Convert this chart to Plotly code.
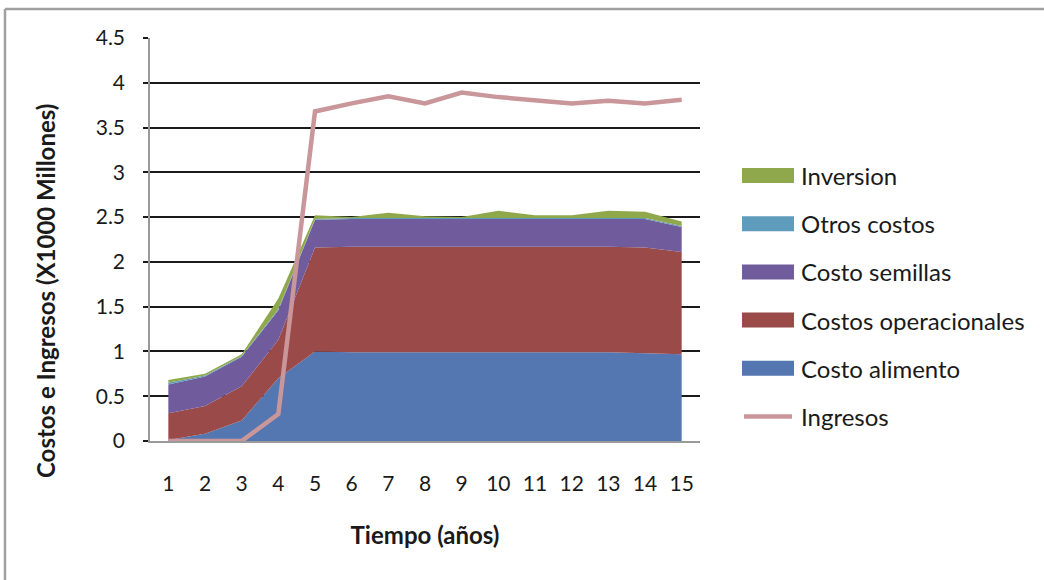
import plotly.graph_objects as go

years = [str(i) for i in range(1, 16)]
costo_alimento = [0.01, 0.08, 0.23, 0.70, 1.00, 0.99, 0.99, 0.99, 0.99, 0.99, 0.99, 0.99, 0.99, 0.98, 0.97]
costos_operacionales = [0.30, 0.31, 0.38, 0.43, 1.16, 1.18, 1.18, 1.18, 1.18, 1.18, 1.18, 1.18, 1.18, 1.18, 1.14]
costo_semillas = [0.32, 0.33, 0.33, 0.33, 0.31, 0.31, 0.31, 0.31, 0.31, 0.31, 0.31, 0.31, 0.31, 0.32, 0.28]
otros_costos = [0.02, 0.01, 0.01, 0.01, 0.01, 0.01, 0.01, 0.01, 0.01, 0.01, 0.01, 0.01, 0.01, 0.01, 0.01]
inversion = [0.03, 0.02, 0.02, 0.12, 0.04, 0.01, 0.06, 0.02, 0.01, 0.08, 0.03, 0.03, 0.08, 0.07, 0.05]
ingresos = [0.0, 0.0, 0.0, 0.30, 3.68, 3.77, 3.85, 3.77, 3.89, 3.84, 3.80, 3.77, 3.80, 3.77, 3.81]

y_ticks = [0, 0.5, 1, 1.5, 2, 2.5, 3, 3.5, 4, 4.5]
y_tick_labels = ["0", "0.5", "1", "1.5", "2", "2.5", "3", "3.5", "4", "4.5"]

FONT = "Lato"
TXT = "#1a1a1a"

areas = [
    ("Costo alimento", costo_alimento, "#5476B1"),
    ("Costos operacionales", costos_operacionales, "#9B4A4A"),
    ("Costo semillas", costo_semillas, "#705C9C"),
    ("Otros costos", otros_costos, "#5F9BBA"),
    ("Inversion", inversion, "#8FA84C"),
]
ING_COLOR = "#C9969A"

fig = go.Figure()
for name, vals, color in areas:
    fig.add_trace(go.Scatter(
        x=years, y=vals, name=name, stackgroup="costs", mode="lines",
        line=dict(width=0, color=color), fillcolor=color, showlegend=False,
    ))
fig.add_trace(go.Scatter(
    x=years, y=ingresos, name="Ingresos", mode="lines",
    line=dict(width=4.5, color=ING_COLOR), showlegend=False,
))

W, H = 1044, 580
L, R, T, B = 150, 700, 38, 441
def px(x):
    return (x - L) / (R - L)
def py(y):
    return (B - y) / (B - T)

shapes = [
    dict(type="line", xref="paper", yref="paper", x0=px(5), x1=px(1044), y0=py(9), y1=py(9),
         line=dict(color="#a0a0a0", width=2.5)),
    dict(type="line", xref="paper", yref="paper", x0=px(5), x1=px(5), y0=py(9), y1=py(580),
         line=dict(color="#a0a0a0", width=2.5)),
]
annotations = [
    dict(text="<b>Costos e Ingresos (X1000 Millones)</b>", xref="paper", yref="paper",
         x=px(45), y=py(291), xanchor="center", yanchor="middle", textangle=-90,
         showarrow=False, font=dict(size=24, family=FONT, color=TXT)),
]

# legend (Excel order: top of stack first, line last)
legend_items = [(n, c, "area") for n, _, c in reversed(areas)] + [("Ingresos", ING_COLOR, "line")]
y0_leg, step = 175.5, 48.2
for i, (name, color, kind) in enumerate(legend_items):
    yc = y0_leg + i * step
    if kind == "area":
        shapes.append(dict(type="rect", xref="paper", yref="paper",
                           x0=px(742), x1=px(794), y0=py(yc - 7.5), y1=py(yc + 7.5),
                           fillcolor=color, line=dict(width=0)))
    else:
        shapes.append(dict(type="line", xref="paper", yref="paper",
                           x0=px(744), x1=px(792), y0=py(yc), y1=py(yc),
                           line=dict(color=color, width=4.5)))
    annotations.append(dict(text=name, xref="paper", yref="paper", x=px(799), y=py(yc),
                            xanchor="left", yanchor="middle", showarrow=False,
                            font=dict(size=24, family=FONT, color=TXT)))

fig.update_layout(
    width=W, height=H,
    margin=dict(l=L, r=W - R, t=T, b=H - B),
    paper_bgcolor="white", plot_bgcolor="white",
    font=dict(family=FONT, color=TXT, size=21),
    showlegend=False,
    xaxis=dict(
        type="category", range=[-0.5, 14.5],
        showline=True, linecolor="#9a9a9a", linewidth=1.5,
        ticks="", showgrid=False, tickfont=dict(size=21), ticklabelstandoff=23,
        title=dict(text="<b>Tiempo (años)</b>", font=dict(size=24), standoff=33),
    ),
    yaxis=dict(
        range=[0, 4.5], tickvals=y_ticks, ticktext=y_tick_labels,
        showline=True, linecolor="#9a9a9a", linewidth=1.5,
        showgrid=True, gridcolor=TXT, gridwidth=1.5,
        ticks="outside", ticklen=5, tickcolor=TXT, tickwidth=1.5,
        tickfont=dict(size=21), zeroline=False, ticklabelstandoff=14,
    ),
    shapes=shapes,
    annotations=annotations,
)

fig.write_html("out.html", post_script="document.body.style.margin='0';",
               config={"displayModeBar": False})
